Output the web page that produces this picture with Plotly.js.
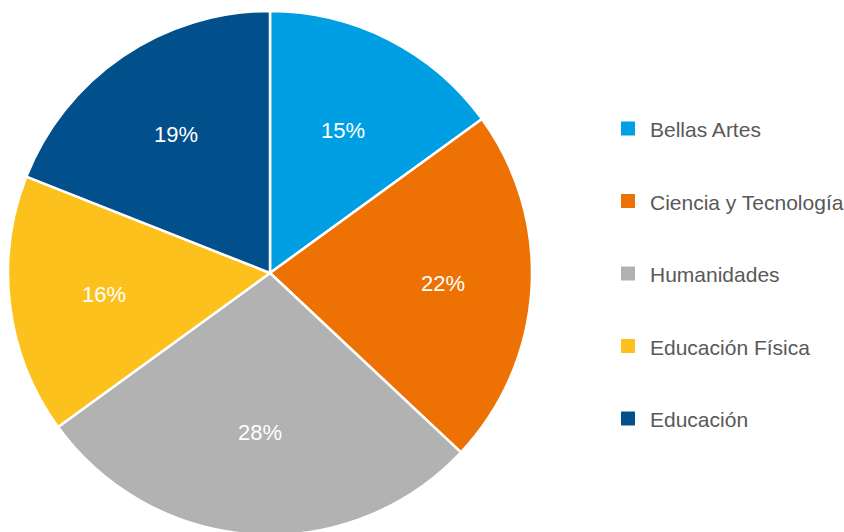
<!DOCTYPE html>
<html>
<head>
<meta charset="utf-8">
<script src="https://cdn.plot.ly/plotly-3.0.1.min.js"></script>
<style>
html,body{margin:0;padding:0;background:#fff;overflow:hidden;}
#chart{width:844px;height:546px;}
</style>
</head>
<body>
<div id="chart"></div>
<script>
const categories = ["Bellas Artes", "Ciencia y Tecnología", "Humanidades", "Educación Física", "Educación"];
const values = [15, 22, 28, 16, 19];
const colors = ["#009fe3", "#ee7203", "#b2b2b2", "#fdc11e", "#02508b"];
// label placement (fraction of radius), styling only
const labelRadius = [0.61, 0.66, 0.61, 0.64, 0.64];

const FONT = "'Liberation Sans', Arial, sans-serif";
const H = 546, T = 11, PH = 524;

const trace = {
  type: "pie",
  labels: categories,
  values: values,
  sort: false,
  direction: "clockwise",
  rotation: 0,
  marker: {colors: colors, line: {color: "#ffffff", width: 2.5}},
  textinfo: "none",
  domain: {x: [0, 540/844], y: [0, 1]},
  hoverinfo: "label+percent",
  showlegend: false
};

const shapes = [];
const annotations = [];

// percent labels placed at slice mid-angles
const total = values.reduce((a, b) => a + b, 0);
const cx = 270, cy = 273, R = 262;
let cum = 0;
values.forEach((v, i) => {
  const mid = (cum + v / 2) / total * 2 * Math.PI;
  cum += v;
  const px = cx + Math.sin(mid) * R * labelRadius[i];
  const py = cy - Math.cos(mid) * R * labelRadius[i];
  annotations.push({
    xref: "paper", yref: "paper", x: px / 844, y: 1 - (py - T) / PH,
    xanchor: "center", yanchor: "middle", showarrow: false,
    text: Math.round(v / total * 100) + "%",
    font: {family: FONT, size: 22, color: "#ffffff"}
  });
});

const legendTop = 128.5, legendStep = 72.5;
categories.forEach((c, i) => {
  const yc = legendTop + i * legendStep;
  shapes.push({
    type: "rect", xref: "paper", yref: "paper",
    x0: 621/844, x1: 635/844,
    y0: 1 - (yc + 7 - T) / PH, y1: 1 - (yc - 7 - T) / PH,
    fillcolor: colors[i], line: {width: 0}
  });
  annotations.push({
    xref: "paper", yref: "paper", x: 648/844, y: 1 - (yc + 1 - T) / PH,
    xanchor: "left", yanchor: "middle", showarrow: false,
    text: c, font: {family: FONT, size: 21, color: "#595959"}
  });
});

const layout = {
  width: 844, height: H,
  margin: {l: 0, r: 0, t: T, b: H - T - PH},
  paper_bgcolor: "#ffffff",
  showlegend: false,
  shapes: shapes,
  annotations: annotations
};

Plotly.newPlot("chart", [trace], layout, {displayModeBar: false, staticPlot: true});
</script>
</body>
</html>
